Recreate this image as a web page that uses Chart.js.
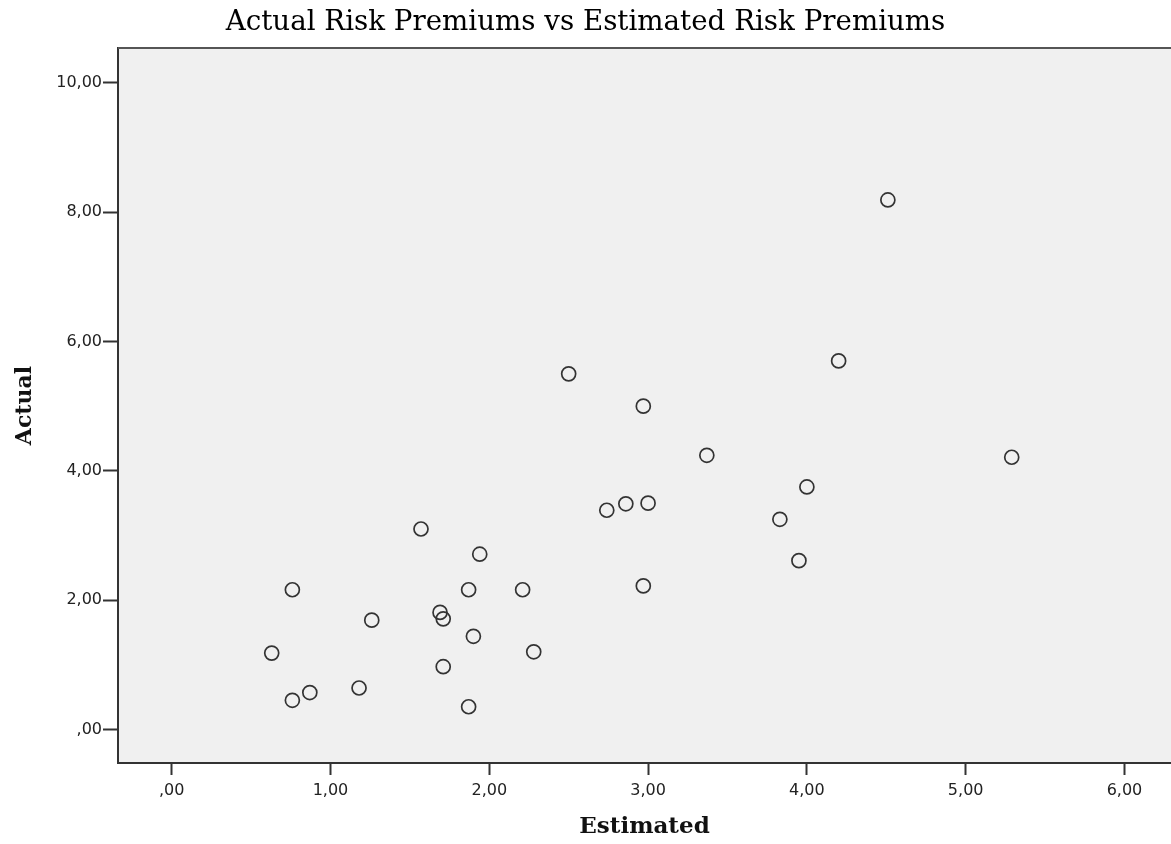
<!DOCTYPE html>
<html>
<head>
<meta charset="utf-8">
<title>Actual Risk Premiums vs Estimated Risk Premiums</title>
<script src="https://cdn.jsdelivr.net/npm/chart.js@4.4.1/dist/chart.umd.min.js"></script>
<style>
    html, body { margin: 0; padding: 0; background: #fff; overflow: hidden; }
    #wrap { position: relative; width: 1171px; height: 844px; }
</style>
</head>
<body>
<div id="wrap"><canvas id="myChart"></canvas></div>
<script>
// Values
const estimated = [2.50, 4.51, 4.20, 2.97, 3.37, 5.29, 4.00, 3.00, 2.74, 2.86,
                   1.57, 1.94, 0.76, 1.87, 2.21, 2.97, 1.26, 1.69, 1.71, 1.90,
                   0.63, 2.28, 1.71, 0.87, 0.76, 1.18, 1.87, 3.83, 3.95];
const actual    = [5.50, 8.19, 5.70, 5.00, 4.24, 4.21, 3.75, 3.50, 3.39, 3.49,
                   3.10, 2.71, 2.16, 2.16, 2.16, 2.22, 1.69, 1.81, 1.71, 1.44,
                   1.18, 1.20, 0.97, 0.57, 0.45, 0.64, 0.35, 3.25, 2.61];

const xTicks = [0, 1, 2, 3, 4, 5, 6];
const yTicks = [0, 2, 4, 6, 8, 10];

const titleText = "Actual Risk Premiums vs Estimated Risk Premiums";
const xTitle = "Estimated";
const yTitle = "Actual";

// SPSS style number labels: ",00", "2,00" ...
function fmt(v) {
    let s = Number(v).toFixed(2).replace(".", ",");
    if (s.startsWith("0,")) s = s.slice(1);
    return s;
}

const tickFont = { family: "DejaVu Sans", size: 16 };
const serif = "DejaVu Serif";

// Grey plot area with a top edge line
const plotFrame = {
    id: "plotFrame",
    beforeDraw(chart) {
        const { ctx, chartArea: a } = chart;
        ctx.save();
        ctx.fillStyle = "#f0f0f0";
        ctx.fillRect(a.left, a.top, a.right - a.left, a.bottom - a.top);
        ctx.restore();
    },
    afterDatasetsDraw(chart) {
        const { ctx, chartArea: a } = chart;
        ctx.save();
        ctx.strokeStyle = "#555";
        ctx.lineWidth = 2;
        ctx.beginPath();
        ctx.moveTo(a.left, a.top);
        ctx.lineTo(a.right, a.top);
        ctx.stroke();
        ctx.restore();
    }
};

const points = estimated.map((x, i) => ({ x: x, y: actual[i] }));

const ctx = document.getElementById("myChart").getContext("2d");
new Chart(ctx, {
    type: "scatter",
    data: {
        datasets: [{
            label: "Actual",
            data: points,
            pointRadius: 7,
            pointHoverRadius: 7,
            borderWidth: 1.7,
            borderColor: "#333",
            backgroundColor: "rgba(0,0,0,0)"
        }]
    },
    options: {
        responsive: true,
        maintainAspectRatio: false,
        animation: false,
        layout: { padding: 0, autoPadding: false },
        plugins: {
            legend: { display: false },
            tooltip: { enabled: false },
            title: {
                display: true,
                text: titleText,
                color: "#000",
                font: { family: serif, size: 27.7, weight: "normal" },
                padding: { top: 6, bottom: 8.8 }
            }
        },
        scales: {
            x: {
                type: "linear",
                min: -0.338,
                max: 6.293,
                afterBuildTicks: s => { s.ticks = xTicks.map(v => ({ value: v })); },
                afterFit: s => { s.height = 81; },
                grid: { display: true, drawOnChartArea: false, drawTicks: true, tickLength: 12, tickWidth: 2, tickColor: "#333" },
                border: { display: true, color: "#333", width: 2 },
                ticks: { padding: 6, color: "#222", font: tickFont, maxRotation: 0, autoSkip: false, callback: v => fmt(v) },
                title: { display: true, text: xTitle, color: "#111", font: { family: serif, size: 23, weight: "bold" }, padding: { top: 0, bottom: 3 } }
            },
            y: {
                type: "linear",
                min: -0.52,
                max: 10.54,
                afterBuildTicks: s => { s.ticks = yTicks.map(v => ({ value: v })); },
                afterFit: s => { s.width = 118; },
                grid: { display: true, drawOnChartArea: false, drawTicks: true, tickLength: 15, tickWidth: 2, tickColor: "#333" },
                border: { display: true, color: "#333", width: 2 },
                ticks: { padding: 1, color: "#222", font: tickFont, autoSkip: false, callback: v => fmt(v) },
                title: { display: true, text: yTitle, color: "#111", font: { family: serif, size: 22, weight: "bold" }, padding: { top: 12, bottom: 0 } }
            }
        }
    },
    plugins: [plotFrame]
});
</script>
</body>
</html>
